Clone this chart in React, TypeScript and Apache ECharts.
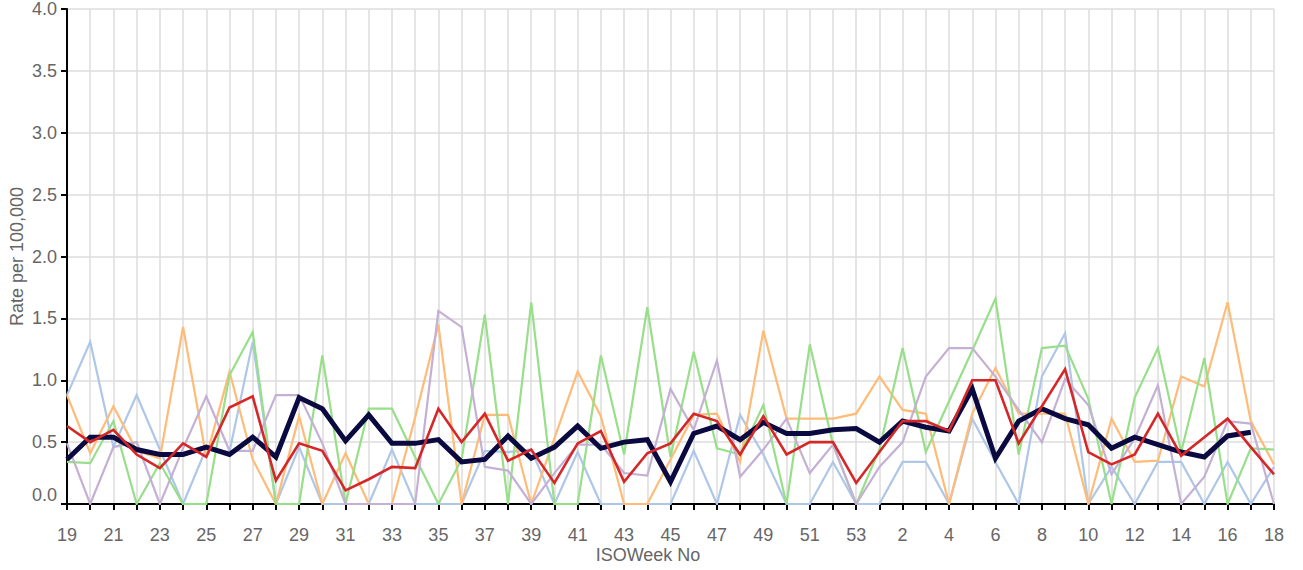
import React, { useEffect, useRef } from 'react';
import * as echarts from 'echarts';

const weeks = ['19','20','21','22','23','24','25','26','27','28','29','30','31','32','33','34','35','36','37','38','39','40','41','42','43','44','45','46','47','48','49','50','51','52','53','1','2','3','4','5','6','7','8','9','10','11','12','13','14','15','16','17','18'];

const yTicks = ['0.0','0.5','1.0','1.5','2.0','2.5','3.0','3.5','4.0'];

const total = [0.36,0.54,0.54,0.44,0.40,0.40,0.46,0.40,0.54,0.38,0.86,0.77,0.51,0.72,0.49,0.49,0.52,0.34,0.36,0.55,0.37,0.46,0.63,0.45,0.50,0.52,0.18,0.57,0.63,0.52,0.66,0.57,0.57,0.60,0.61,0.50,0.67,0.62,0.59,0.93,0.37,0.67,0.77,0.69,0.64,0.45,0.54,0.48,0.42,0.38,0.55,0.58,null];

const groupRed = [0.63,0.50,0.60,0.40,0.29,0.49,0.38,0.78,0.87,0.19,0.49,0.43,0.11,0.20,0.30,0.29,0.77,0.50,0.73,0.35,0.44,0.17,0.49,0.59,0.18,0.41,0.49,0.73,0.67,0.40,0.71,0.40,0.50,0.50,0.17,0.42,0.67,0.67,0.59,1.00,1.00,0.49,0.79,1.09,0.42,0.32,0.40,0.73,0.39,0.54,0.69,0.46,0.24];

const groupOrange = [0.88,0.41,0.79,0.43,0.37,1.43,0.38,1.07,0.36,0,0.71,0,0.41,0,0,0.70,1.45,0,0.72,0.72,0,0.53,1.07,0.71,0,0,0.36,0.72,0.73,0.34,1.40,0.69,0.69,0.69,0.73,1.03,0.76,0.73,0,0.73,1.10,0.73,0.73,0.73,0,0.69,0.34,0.35,1.03,0.95,1.63,0.67,0.32];

const groupGreen = [0.34,0.33,0.67,0,0.33,0,0,1.04,1.39,0,0,1.20,0,0.77,0.77,0.38,0,0.36,1.53,0,1.63,0,0,1.20,0.40,1.59,0.38,1.23,0.45,0.40,0.80,0,1.29,0.48,0,0.44,1.26,0.42,0.83,1.24,1.66,0.40,1.26,1.28,0.85,0,0.86,1.26,0.42,1.18,0,0.45,0.44];

const groupBlue = [0.88,1.31,0.46,0.88,0.44,0,0.45,0.42,1.31,0,0.46,0,0,0,0.44,0,0,0,0.43,0.42,0.44,0,0.42,0,0,0,0,0.43,0,0.72,0.40,0,0,0.34,0,0,0.34,0.34,0,0.69,0.34,0,1.03,1.38,0,0.30,0,0.34,0.34,0,0.34,0,0.30];

const groupPurple = [0.49,0,0.46,0.50,0,0.45,0.87,0.43,0.43,0.88,0.88,0.49,0,0,0,0,1.56,1.43,0.30,0.27,0,0.25,0.48,0.48,0.25,0.23,0.93,0.60,1.16,0.22,0.44,0.69,0.25,0.48,0,0.30,0.50,1.03,1.26,1.26,1.03,0.76,0.50,1.01,0.80,0.24,0.53,0.96,0,0.22,0.67,0.65,0];

const FONT = '"Liberation Sans", Arial, Helvetica, sans-serif';
const TEXT = '#666666';

export default function App() {
  const ref = useRef<HTMLDivElement>(null);
  useEffect(() => {
    document.body.style.margin = '0';
    const chart = echarts.init(ref.current!, null, { renderer: 'svg' });
    const mk = (name: string, data: (number | null)[], color: string, width: number, z: number) => ({
      name,
      type: 'line',
      data,
      symbol: 'none',
      showSymbol: false,
      connectNulls: false,
      z,
      lineStyle: { color, width, join: 'miter' },
      itemStyle: { color },
      emphasis: { disabled: true },
    });
    chart.setOption({
      animation: false,
      textStyle: { fontFamily: FONT },
      grid: { left: 67, right: 29, top: 9, bottom: 66, containLabel: false, outerBoundsMode: 'none' },
      xAxis: {
        type: 'category',
        data: weeks,
        boundaryGap: false,
        axisLine: { show: true, lineStyle: { color: '#000', width: 2 } },
        axisTick: { show: true, interval: 0, length: 6, lineStyle: { color: '#000', width: 2 } },
        axisLabel: { interval: 1, fontSize: 18, color: TEXT, margin: 22, fontFamily: FONT },
        splitLine: { show: true, interval: 0, lineStyle: { color: '#dcdcdc', width: 1.5 } },
      },
      yAxis: {
        type: 'value',
        min: 0,
        max: 4,
        interval: 0.5,
        name: 'Rate per 100,000',
        nameLocation: 'middle',
        nameGap: 41,
        nameRotate: 90,
        nameMoveOverlap: false,
        nameTextStyle: { fontSize: 18, color: TEXT, fontFamily: FONT },
        axisLine: { show: true, lineStyle: { color: '#000', width: 2 } },
        axisTick: { show: true, length: 6, lineStyle: { color: '#000', width: 2 } },
        axisLabel: {
          fontSize: 18,
          color: TEXT,
          margin: 10,
          fontFamily: FONT,
          formatter: (v: number) => {
            const s = yTicks[Math.round(v / 0.5)] ?? v.toFixed(1);
            return v === 0 ? '{z|' + s + '}' : s;
          },
          rich: { z: { fontSize: 18, color: TEXT, fontFamily: FONT, padding: [0, 0, 19, 0] } },
        },
        splitLine: { show: true, lineStyle: { color: '#dcdcdc', width: 1.5 } },
      },
      graphic: [
        {
          type: 'text',
          x: 648,
          y: 555,
          style: {
            text: 'ISOWeek No',
            fontSize: 18,
            fontFamily: FONT,
            fill: TEXT,
            align: 'center',
            verticalAlign: 'middle',
            textAlign: 'center',
            textVerticalAlign: 'middle',
          },
        },
      ],
      series: [
        mk('65+', groupBlue, '#aec7e8', 2.2, 2),
        mk('45-64', groupOrange, '#ffbb78', 2.2, 2),
        mk('25-44', groupGreen, '#98df8a', 2.2, 2),
        mk('15-24', groupPurple, '#c5b0d5', 2.2, 2),
        mk('All ages', total, '#0a0a40', 5, 3),
        mk('0-14', groupRed, '#d62728', 2.6, 4),
      ],
    });
    return () => chart.dispose();
  }, []);
  return <div ref={ref} style={{ width: 1303, height: 570 }} />;
}
